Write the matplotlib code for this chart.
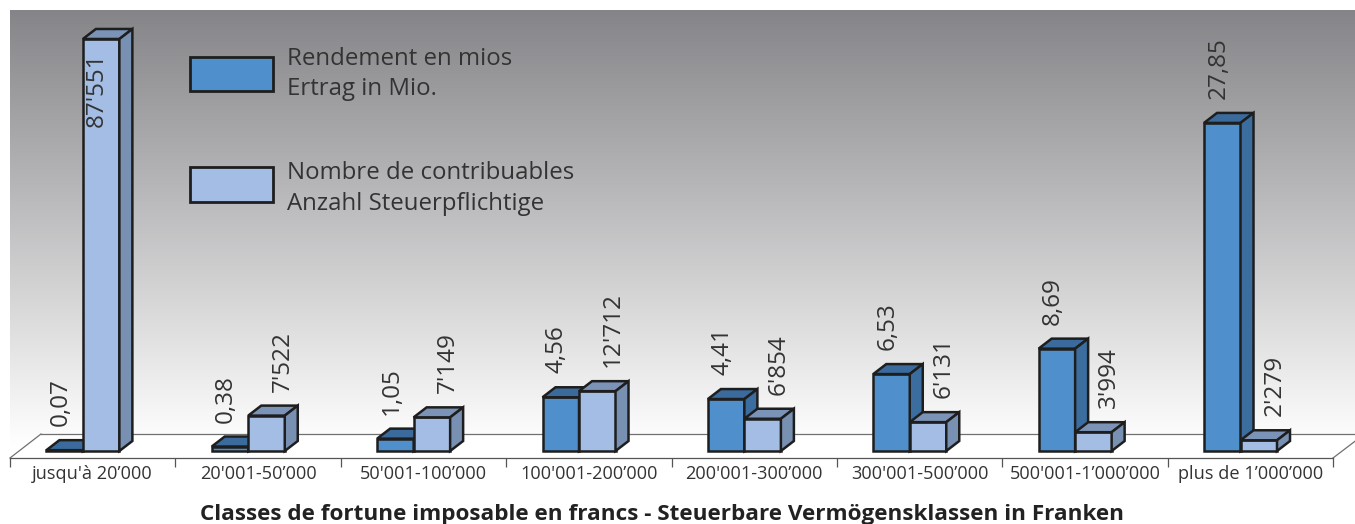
import numpy as np
import matplotlib
matplotlib.use("Agg")
import matplotlib.pyplot as plt
from matplotlib.patches import Polygon, Rectangle
from matplotlib.lines import Line2D

# ---------------- data ----------------
categories = ["jusqu'à 20’000", "20'001-50’000", "50'001-100’000", "100'001-200’000",
              "200'001-300’000", "300'001-500’000", "500'001-1’000’000", "plus de 1’000’000"]
rendement = [0.07, 0.38, 1.05, 4.56, 4.41, 6.53, 8.69, 27.85]          # Ertrag in Mio.
contribuables = [87551, 7522, 7149, 12712, 6854, 6131, 3994, 2279]     # Anzahl Steuerpflichtige
legend_rendement = ["Rendement en mios", "Ertrag in Mio."]
legend_contrib = ["Nombre de contribuables", "Anzahl Steuerpflichtige"]
title = "Classes de fortune imposable en francs - Steuerbare Vermögensklassen in Franken"

# ---------------- style / layout ----------------
W, H, DPI = 1355, 524, 100
plt.rcParams['font.family'] = ['Open Sans', 'DejaVu Sans']
TXT = '#333333'
EDGE = '#1e1e1e'
LW = 1.8
DARK = ('#4f8fcc', '#3a6b9c', '#3b6d9f')    # front, top, side
LIGHT = ('#a3bde4', '#7b93b6', '#7890b2')

fig = plt.figure(figsize=(W / DPI, H / DPI), dpi=DPI)


def fx(x):
    return x / W


def fy(y):
    return 1 - y / H


PL, PR, PT, PB = 10, 1355, 10, 458   # gradient panel (pixels)
AR = 1333                            # right end of the front floor edge
ZERO = 451                           # pixel row of the bar bases
dark_ppu = 11.78                     # pixels per million
light_ppu = 0.004706                 # pixels per taxpayer

# ---------------- background panel + floor ----------------
bg = fig.add_axes([fx(PL), fy(PB), (PR - PL) / W, (PB - PT) / H])
topc = np.array([0.522, 0.522, 0.537])
rows = np.linspace(PT, PB, 449)
t = np.clip((rows - PT) / (445 - PT), 0, 1)
grad = topc[None, :] + (1 - topc[None, :]) * t[:, None]
bg.imshow(grad[:, None, :], extent=(PL, PR, PB, PT), aspect='auto',
          interpolation='bilinear', origin='upper')
bg.set_xlim(PL, PR)
bg.set_ylim(PB, PT)
bg.axis('off')
bg.add_patch(Polygon([(10, 458), (41, 434), (1355, 434), (1355, 441), (1333, 458)],
                     closed=True, facecolor='white', edgecolor='none'))
for xs, ys in [((10, 41), (458, 434)), ((41, 1355), (434, 434)), ((1333, 1356), (458, 440.5))]:
    bg.add_line(Line2D(xs, ys, color='#707070', lw=0.9, clip_on=False))

# ---------------- bar axes ----------------
ax = fig.add_axes([fx(PL), fy(PB), (AR - PL) / W, (PB - PT) / H])
ax.patch.set_visible(False)
ax.set_xlim(-0.5, 7.5)
ax.set_ylim(-(PB - ZERO) / dark_ppu, (ZERO - PT) / dark_ppu)
ax2 = ax.twinx()
ax2.set_ylim(-(PB - ZERO) / light_ppu, (ZERO - PT) / light_ppu)
ax2.patch.set_visible(False)

for a in (ax, ax2):
    for s in ('left', 'right', 'top'):
        a.spines[s].set_visible(False)
    a.set_yticks([])
ax2.spines['bottom'].set_visible(False)
ax.spines['bottom'].set_color('#555555')
ax.spines['bottom'].set_linewidth(0.9)

ax.set_xticks(np.arange(-0.5, 8, 1))
ax.set_xticklabels([])
ax.tick_params(axis='x', which='major', direction='out', length=6.5, width=0.9, color='#555555')
ax.set_xticks(np.arange(len(categories)), minor=True)
ax.set_xticklabels(categories, minor=True, fontsize=13.1, color=TXT)
ax.tick_params(axis='x', which='minor', length=0, pad=5)

ux = (AR - PL) / len(categories)     # pixels per category
bw = 36.5 / ux
ddx = 13 / ux
x_dark = np.arange(len(categories)) - 0.28
x_light = x_dark + bw


def faces(axis, xs, vals, ppu, cols):
    axis.bar(xs, vals, width=bw, align='edge', color=cols[0], edgecolor=EDGE,
             linewidth=LW, zorder=2)
    ddy = 10 / ppu
    for x0, h in zip(xs, vals):
        axis.add_patch(Polygon([(x0, h), (x0 + bw, h), (x0 + bw + ddx, h + ddy), (x0 + ddx, h + ddy)],
                               closed=True, facecolor=cols[1], edgecolor=EDGE, lw=LW,
                               joinstyle='miter', zorder=2))
        axis.add_patch(Polygon([(x0 + bw, 0), (x0 + bw + ddx, ddy), (x0 + bw + ddx, h + ddy), (x0 + bw, h)],
                               closed=True, facecolor=cols[2], edgecolor=EDGE, lw=LW,
                               joinstyle='miter', zorder=2))


faces(ax, x_dark, rendement, dark_ppu, DARK)
faces(ax2, x_light, contribuables, light_ppu, LIGHT)

pt = 72 / DPI
room = ZERO - PT - 110
for x0, v in zip(x_dark, rendement):
    ax.annotate(f"{v:.2f}".replace('.', ','), xy=(x0 + bw / 2, v), xytext=(-4 * pt, 24 * pt),
                textcoords='offset points', rotation=90, ha='center', va='bottom',
                fontsize=17.5, color=TXT, annotation_clip=False)
for x0, v in zip(x_light, contribuables):
    lab = f"{v:,}".replace(',', "'")
    if v * light_ppu > room:
        ax2.annotate(lab, xy=(x0 + bw / 2, v), xytext=(-4 * pt, -14 * pt),
                     textcoords='offset points', rotation=90, ha='center', va='top',
                     fontsize=17.5, color=TXT, annotation_clip=False, zorder=5)
    else:
        ax2.annotate(lab, xy=(x0 + bw / 2, v), xytext=(16 * pt, 24 * pt),
                     textcoords='offset points', rotation=90, ha='center', va='bottom',
                     fontsize=17.5, color=TXT, annotation_clip=False, zorder=5)

# ---------------- legend ----------------
for (y0, y1), col, lines, (b1, b2) in [((57, 91), DARK[0], legend_rendement, (65, 95)),
                                       ((167, 202), LIGHT[0], legend_contrib, (179, 210))]:
    fig.add_artist(Rectangle((fx(190), fy(y1)), 83 / W, (y1 - y0) / H, transform=fig.transFigure,
                             facecolor=col, edgecolor=EDGE, lw=2.0))
    fig.text(fx(287), fy(b1), lines[0], fontsize=17.3, color=TXT, va='baseline', ha='left')
    fig.text(fx(287), fy(b2), lines[1], fontsize=17.3, color=TXT, va='baseline', ha='left')

# ---------------- title ----------------
fig.text(fx(662.5), fy(520), title, fontsize=16.2, fontweight='bold', color='#222222',
         ha='center', va='baseline')

fig.savefig('out.png', dpi=DPI, facecolor='white')
